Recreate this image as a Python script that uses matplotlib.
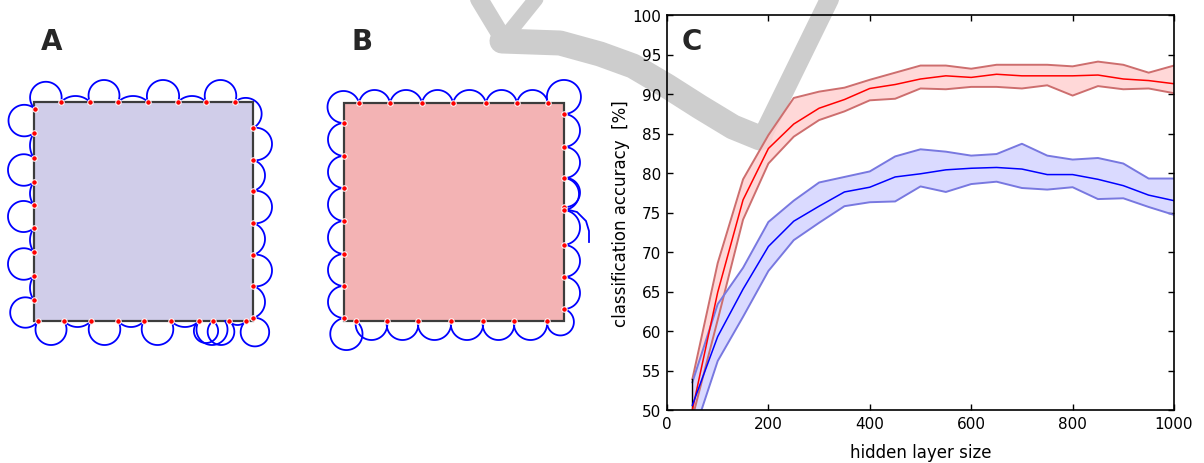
import numpy as np
import matplotlib
matplotlib.use('Agg')
import matplotlib.pyplot as plt

# ---- panel C data (hidden layer size vs accuracy) ----
hidden = [50, 100, 150, 200, 250, 300, 350, 400, 450, 500,
          550, 600, 650, 700, 750, 800, 850, 900, 950, 1000]
red_mean = [50.0, 64.9, 76.6, 83.1, 86.2, 88.2, 89.3, 90.7, 91.2, 91.9,
            92.3, 92.1, 92.5, 92.3, 92.3, 92.3, 92.4, 91.9, 91.7, 91.3]
red_hi = [53.9, 68.6, 79.2, 84.8, 89.5, 90.3, 90.8, 91.8, 92.7, 93.6,
          93.6, 93.2, 93.7, 93.7, 93.7, 93.5, 94.1, 93.7, 92.7, 93.6]
red_lo = [49.0, 61.4, 74.1, 81.2, 84.6, 86.7, 87.8, 89.2, 89.4, 90.7,
          90.6, 90.9, 90.9, 90.7, 91.1, 89.8, 91.0, 90.6, 90.7, 90.1]
blue_mean = [50.6, 59.3, 65.3, 70.7, 73.9, 75.8, 77.6, 78.2, 79.5, 79.9,
             80.4, 80.6, 80.7, 80.5, 79.8, 79.8, 79.2, 78.4, 77.2, 76.5]
blue_hi = [53.5, 63.4, 68.0, 73.8, 76.5, 78.8, 79.5, 80.2, 82.1, 83.0,
           82.7, 82.2, 82.4, 83.7, 82.2, 81.7, 81.9, 81.2, 79.3, 79.3]
blue_lo = [46.5, 56.2, 61.8, 67.6, 71.5, 73.7, 75.8, 76.3, 76.4, 78.3,
           77.6, 78.6, 78.9, 78.1, 77.9, 78.2, 76.7, 76.8, 75.7, 74.7]

# ---- panels A / B: sample points on the square outline (figure pixels) ----
A_square = (34, 103, 253, 322)
A_pts = [(35, 110), (61, 103), (90, 103), (118, 103), (148, 103), (178, 103), (206, 103), (235, 103),
         (253, 129), (253, 161), (253, 192), (253, 224), (253, 256), (253, 287), (253, 319),
         (246, 322), (229, 322), (213, 322), (199, 322), (171, 322), (144, 322), (118, 322),
         (91, 322), (64, 322), (38, 322),
         (34, 301), (34, 277), (34, 253), (34, 229), (34, 206), (34, 183), (34, 159), (34, 134)]
A_bulge = [24, 6, 22, 6, 22, 6, 22, 18,
           19, 12, 19, 12, 19, 12,
           28,
           4, 24, 22, 6, 24, 6, 24, 6, 24,
           26,
           4, 26, 4, 26, 4, 26, 4,
           26]
A_extra = [((199, 322), (225, 322), 24)]

B_square = (344, 104, 564, 322)
B_pts = [(344, 124), (359, 104), (390, 104), (422, 104), (453, 104), (486, 104), (517, 104), (548, 104),
         (564, 115), (564, 148), (564, 179), (564, 208), (564, 211), (564, 246), (564, 278), (564, 310),
         (547, 322), (514, 322), (483, 322), (451, 322), (418, 322), (387, 322), (356, 322),
         (344, 319), (344, 287), (344, 255), (344, 222), (344, 189), (344, 157)]
B_bulge = [26, 13, 13, 13, 13, 13, 13,
           31,
           16, 16, 16, 0, 16, 16, 16,
           22,
           19, 19, 19, 19, 19, 19,
           31,
           16, 16, 16, 16, 16, 16]
B_extra = [((564, 179), (564, 211), 15)]
B_tail = [(565, 210), (577, 213), (586, 222), (589, 232), (589, 243)]

# gray check-mark strokes in the background (figure pixels, width in px)
gray_strokes = [
    ([(476, -5), (502, 38)], 18),
    ([(540, -5), (507, 36)], 15),
    ([(502, 42), (560, 44), (600, 55), (633, 67), (667, 87), (700, 108), (733, 128), (760, 139)], 25),
    ([(763, 136), (832, -5)], 19),
]

PX = 0.72  # px -> pt at dpi 100


def loop(p1, p2, h, centre):
    p1 = np.array(p1, float)
    p2 = np.array(p2, float)
    m = (p1 + p2) / 2
    c = p2 - p1
    L = np.hypot(*c)
    n = np.array([-c[1], c[0]]) / L
    if np.dot(n, m - centre) < 0:
        n = -n
    r = ((L / 2) ** 2 + h ** 2) / (2 * h)
    C = m + (h - r) * n
    a1 = np.arctan2(p1[1] - C[1], p1[0] - C[0])
    a2 = np.arctan2(p2[1] - C[1], p2[0] - C[0])
    ap = np.arctan2(n[1], n[0])
    d = (a2 - a1) % (2 * np.pi)
    if (ap - a1) % (2 * np.pi) < d:
        t = np.linspace(a1, a1 + d, 120)
    else:
        t = np.linspace(a1, a1 - (2 * np.pi - d), 120)
    return C[0] + r * np.cos(t), C[1] + r * np.sin(t)


def draw_panel(ax, square, pts, bulges, extra, fill):
    x0, y0, x1, y1 = square
    centre = np.array([(x0 + x1) / 2, (y0 + y1) / 2])
    ax.add_patch(plt.Rectangle((x0, y0), x1 - x0, y1 - y0, facecolor=fill,
                               edgecolor='#3c3c3c', lw=2.2 * PX, zorder=2))
    segs = [(pts[i], pts[(i + 1) % len(pts)], bulges[i]) for i in range(len(pts))] + extra
    for p1, p2, h in segs:
        if h <= 0:
            continue
        lx, ly = loop(p1, p2, h, centre)
        ax.plot(lx, ly, color='#0000ff', lw=1.8 * PX, zorder=3)
    px, py = zip(*pts)
    ax.plot(px, py, 'o', ms=5.5 * PX, mfc='red', mec='white', mew=1.0 * PX, zorder=4)


fig = plt.figure(figsize=(12.04, 4.64), dpi=100)
bg = fig.add_axes([0, 0, 1, 1], zorder=0)
bg.set_xlim(0, 1204)
bg.set_ylim(464, 0)
bg.axis('off')

for pts, w in gray_strokes:
    gx, gy = zip(*pts)
    bg.plot(gx, gy, color='#cdcdcd', lw=w * PX, solid_capstyle='round',
            solid_joinstyle='round', zorder=1)

draw_panel(bg, A_square, A_pts, A_bulge, A_extra, '#d0cde9')
draw_panel(bg, B_square, B_pts, B_bulge, B_extra, '#f3b3b4')
tx, ty = zip(*B_tail)
bg.plot(tx, ty, color='#0000ff', lw=1.8 * PX, zorder=3)

for lbl, x in [('A', 41), ('B', 352), ('C', 682)]:
    bg.text(x, 50, lbl, fontsize=20, fontweight='bold', color='#262626',
            ha='left', va='baseline', zorder=6)

# ---- panel C ----
ax = fig.add_axes([667 / 1204, 1 - 411 / 464, 507 / 1204, 395 / 464], zorder=2)
ax.set_facecolor('none')
ax.fill_between(hidden, red_lo, red_hi, facecolor='#ffd2d2', alpha=0.85, lw=0)
ax.plot(hidden, red_hi, color='#cd6e6e', lw=1.4)
ax.plot(hidden, red_lo, color='#cd6e6e', lw=1.4)
ax.fill_between(hidden, blue_lo, blue_hi, facecolor='#d6d6ff', alpha=0.9, lw=0)
ax.plot(hidden, blue_hi, color='#7878e0', lw=1.4)
ax.plot(hidden, blue_lo, color='#7878e0', lw=1.4)
ax.plot([hidden[0], hidden[0]], [red_lo[0], red_hi[0]], color='k', lw=1.0)
ax.plot(hidden, red_mean, color='red', lw=1.1)
ax.plot(hidden, blue_mean, color='blue', lw=1.1)

ax.set_xlim(0, 1000)
ax.set_ylim(50, 100)
ax.set_xticks(range(0, 1001, 200))
ax.set_yticks(range(50, 101, 5))
ax.tick_params(direction='in', top=True, right=True, length=4, width=1.0,
               labelsize=11, pad=4)
for s in ax.spines.values():
    s.set_linewidth(1.2)
ax.set_xlabel('hidden layer size', fontsize=12, labelpad=9)
ax.set_ylabel('classification accuracy  [%]', fontsize=12, labelpad=2)

fig.savefig('out.png', dpi=100)
